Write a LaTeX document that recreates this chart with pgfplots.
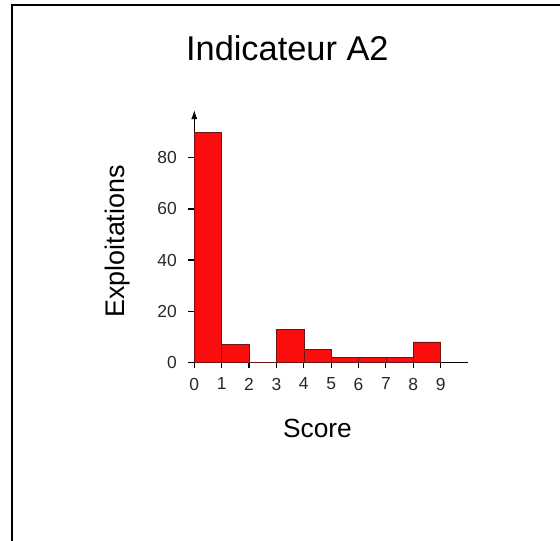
\documentclass[border=0pt]{standalone}
\usepackage{fontspec}
\setmainfont{Liberation Sans}
\usepackage{pgfplots}
\usetikzlibrary{arrows.meta}
\pgfplotsset{compat=1.18}
\definecolor{barred}{RGB}{252,12,12}
\definecolor{baredge}{RGB}{110,20,20}
\definecolor{ticktext}{RGB}{40,40,40}
\newcommand{\tickfont}{\fontsize{17.5}{19}\selectfont}
\begin{document}
\begin{tikzpicture}
\useasboundingbox (0,0) rectangle (560bp,-541bp);
\fill[white] (0,0) rectangle (560bp,-541bp);
\draw[line width=2bp] (12bp,-541bp) -- (12bp,-5bp) -- (561bp,-5bp);
\begin{axis}[
  at={(194.3bp,-362.3bp)}, anchor=origin,
  scale only axis, width=273.7bp, height=252.3bp,
  xmin=0, xmax=10, ymin=0, ymax=98.7,
  axis lines=left,
  x axis line style={-, line width=1bp},
  y axis line style={-{Latex[length=9bp,width=6bp]}, line width=1bp},
  xtick={0,...,9}, ytick={0,20,...,80},
  xtick pos=left, ytick pos=left,
  minor tick num=0,
  tick align=outside,
  major tick length=6bp,
  major tick style={line width=1.2bp, draw=black},
  /pgf/number format/assume math mode=true,
  xticklabel={\tickfont\pgfmathprintnumber{\tick}},
  yticklabel={\tickfont\pgfmathprintnumber{\tick}},
  xticklabel style={text=ticktext, yshift=-6bp},
  yticklabel style={text=ticktext, xshift=-8bp},
  title={Indicateur A2},
  title style={font=\fontsize{34.5}{38}\selectfont, anchor=base, at={(axis description cs:0.34,1.172)}},
  xlabel={Score},
  xlabel style={font=\fontsize{26.4}{30}\selectfont, anchor=center, at={(axis description cs:0.45,-0.264)}},
  ylabel={Exploitations},
  ylabel style={font=\fontsize{27}{30}\selectfont, anchor=center, at={(axis description cs:-0.282,0.479)}},
]
\addplot[ybar interval, fill=barred, draw=baredge, line width=0.5bp] coordinates {
  (0,90) (1,7) (2,0) (3,13) (4,5) (5,2) (6,2) (7,2) (8,8) (9,8)
};
\end{axis}
\end{tikzpicture}
\end{document}
